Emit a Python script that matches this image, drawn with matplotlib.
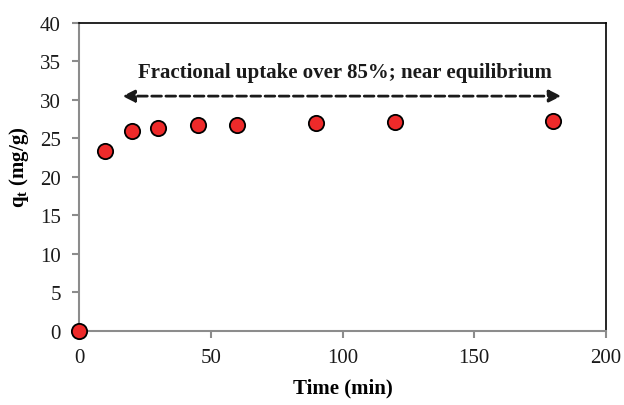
import matplotlib
matplotlib.use("Agg")
from matplotlib import pyplot as plt

time_min = [0, 10, 20, 30, 45, 60, 90, 120, 180]
qt = [0.0, 23.4, 26.0, 26.3, 26.7, 26.8, 27.0, 27.1, 27.3]

arrow_x = [16.5, 183.0]
arrow_y = 30.5
note = "Fractional uptake over 85%; near equilibrium"

plt.rcParams['font.family'] = ['Liberation Serif', 'DejaVu Serif']
plt.rcParams['mathtext.fontset'] = 'custom'
plt.rcParams['mathtext.rm'] = 'Liberation Serif'
plt.rcParams['mathtext.bf'] = 'Liberation Serif:bold'

fig = plt.figure(figsize=(6.24, 4.06), dpi=100)
ax = fig.add_axes([0.1266, 0.1823, 0.8446, 0.7587])

ax.plot(time_min, qt, linestyle='none', marker='o', markersize=11,
        markerfacecolor='#ee2a2a', markeredgecolor='black', markeredgewidth=1.3,
        clip_on=False, zorder=5)

ax.annotate('', xy=(arrow_x[0], arrow_y), xytext=(arrow_x[1], arrow_y),
            arrowprops=dict(arrowstyle='<|-|>', linestyle=(0, (3.5, 1.6)), lw=2,
                            color='#1a1a1a', mutation_scale=18, shrinkA=0, shrinkB=0))
ax.text(101, 33.6, note, ha='center', va='center',
        fontsize=15, fontweight='bold', color='#1a1a1a')

ax.set_xlim(0, 200)
ax.set_ylim(0, 40)
ax.set_xticks(range(0, 201, 50))
ax.set_yticks(range(0, 41, 5))

for s in ['left', 'bottom']:
    ax.spines[s].set_color('#8c8c8c')
    ax.spines[s].set_linewidth(1.5)
for s in ['top', 'right']:
    ax.spines[s].set_color('black')
    ax.spines[s].set_linewidth(1.2)
ax.tick_params(direction='out', length=5, width=1.5, color='#8c8c8c',
               labelsize=15, labelcolor='#1a1a1a')
ax.tick_params(axis='y', pad=8)
ax.tick_params(axis='x', pad=7)

ax.set_xlabel('Time (min)', fontsize=15, fontweight='bold', labelpad=8)
ax.set_ylabel(r'q$_\mathbf{t}$ (mg/g)', fontsize=15, fontweight='bold')
ax.yaxis.set_label_coords(-0.092, 0.535)

fig.savefig('out.png', dpi=100)
